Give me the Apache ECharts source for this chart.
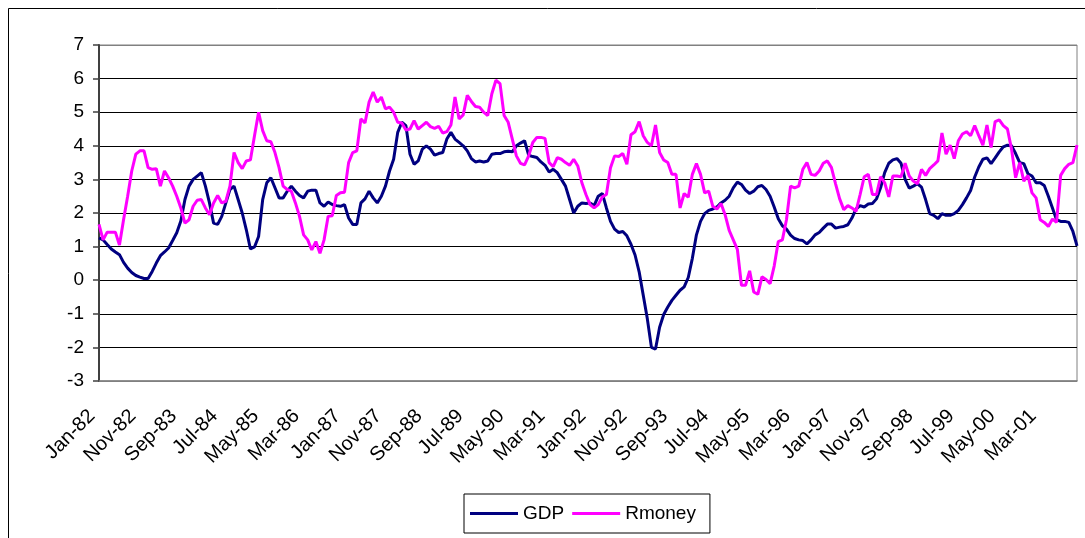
<!DOCTYPE html>
<html>
<head>
<meta charset="utf-8">
<script src="https://cdn.jsdelivr.net/npm/echarts@6/dist/echarts.min.js"></script>
<style>
html,body{margin:0;padding:0;background:#fff;}
#chart{width:1085px;height:538px;}
</style>
</head>
<body>
<div id="chart"></div>
<script>
const monthNames = ['Jan','Feb','Mar','Apr','May','Jun','Jul','Aug','Sep','Oct','Nov','Dec'];
const startYear = 1982;
const monthCount = 240;
const categories = [];
for (let k = 0; k < monthCount; k++) {
  const y = (startYear + Math.floor(k / 12)) % 100;
  categories.push(monthNames[k % 12] + '-' + String(y).padStart(2, '0'));
}

const gdp = [
1.26,1.2,1.06,0.93,0.84,0.76,0.53,0.36,0.23,0.14,
0.09,0.05,0.05,0.26,0.51,0.73,0.84,0.96,1.18,1.41,
1.76,2.4,2.8,3.0,3.1,3.2,2.8,2.3,1.7,1.66,
1.9,2.3,2.7,2.8,2.4,2.0,1.5,0.93,0.99,1.3,
2.4,2.9,3.05,2.75,2.45,2.45,2.65,2.8,2.65,2.52,
2.45,2.65,2.68,2.68,2.3,2.2,2.33,2.25,2.22,2.2,
2.25,1.85,1.66,1.66,2.3,2.42,2.65,2.45,2.3,2.5,
2.8,3.25,3.6,4.4,4.7,4.6,3.75,3.45,3.55,3.9,
4.0,3.9,3.72,3.77,3.8,4.2,4.4,4.2,4.1,4.0,
3.85,3.62,3.52,3.55,3.52,3.55,3.75,3.77,3.77,3.82,
3.84,3.82,4.0,4.08,4.15,3.72,3.68,3.65,3.52,3.42,
3.22,3.3,3.2,3.0,2.8,2.4,2.0,2.2,2.3,2.28,
2.3,2.22,2.5,2.58,2.15,1.75,1.52,1.42,1.45,1.32,
1.07,0.75,0.25,-0.45,-1.15,-2.0,-2.05,-1.4,-1.02,-0.8,
-0.6,-0.45,-0.3,-0.2,0.08,0.65,1.35,1.75,1.98,2.08,
2.12,2.18,2.3,2.38,2.5,2.75,2.92,2.85,2.68,2.58,
2.65,2.78,2.82,2.7,2.5,2.18,1.83,1.62,1.52,1.34,
1.24,1.2,1.18,1.08,1.2,1.35,1.42,1.55,1.67,1.67,
1.55,1.58,1.6,1.65,1.85,2.12,2.22,2.18,2.27,2.28,
2.42,2.75,3.2,3.48,3.58,3.62,3.48,3.0,2.74,2.8,
2.87,2.77,2.4,1.98,1.93,1.83,1.98,1.93,1.93,1.98,
2.08,2.25,2.45,2.67,3.07,3.37,3.6,3.64,3.47,3.64,
3.82,3.97,4.02,4.0,3.77,3.5,3.47,3.17,3.1,2.9,
2.9,2.82,2.5,2.15,1.8,1.75,1.75,1.72,1.45,1.02
];

const rmoney = [
1.66,1.2,1.43,1.43,1.43,1.05,1.8,2.5,3.25,3.75,
3.85,3.85,3.35,3.3,3.32,2.8,3.25,3.05,2.8,2.5,
2.15,1.7,1.8,2.2,2.38,2.4,2.15,1.95,2.3,2.52,
2.3,2.35,2.8,3.8,3.5,3.32,3.55,3.58,4.3,5.0,
4.45,4.15,4.12,3.8,3.35,2.8,2.7,2.65,2.3,1.9,
1.35,1.2,0.9,1.15,0.8,1.2,1.9,1.92,2.52,2.6,
2.62,3.5,3.8,3.85,4.8,4.68,5.3,5.6,5.3,5.45,
5.1,5.15,5.0,4.7,4.68,4.47,4.5,4.75,4.5,4.6,
4.7,4.57,4.52,4.58,4.38,4.42,4.62,5.45,4.8,4.92,
5.5,5.32,5.17,5.15,5.0,4.9,5.55,5.95,5.85,4.9,
4.7,4.2,3.7,3.48,3.43,3.7,4.1,4.25,4.25,4.22,
3.5,3.38,3.65,3.6,3.5,3.42,3.6,3.4,2.9,2.55,
2.25,2.15,2.25,2.48,2.55,3.35,3.7,3.68,3.77,3.45,
4.33,4.42,4.72,4.3,4.1,4.0,4.62,3.8,3.58,3.5,
3.15,3.15,2.15,2.58,2.47,3.15,3.47,3.15,2.6,2.65,
2.2,2.12,2.28,1.95,1.48,1.2,0.92,-0.15,-0.15,0.28,
-0.35,-0.42,0.1,0.02,-0.1,0.42,1.15,1.2,1.8,2.8,
2.75,2.8,3.3,3.5,3.15,3.12,3.25,3.48,3.55,3.35,
2.87,2.42,2.1,2.22,2.15,2.05,2.55,3.08,3.15,2.55,
2.55,3.08,2.9,2.48,3.1,3.1,3.08,3.48,3.1,2.95,
2.87,3.3,3.12,3.32,3.43,3.55,4.38,3.75,4.02,3.62,
4.15,4.35,4.42,4.3,4.6,4.3,4.02,4.62,3.95,4.72,
4.77,4.6,4.5,3.9,3.05,3.5,2.95,3.12,2.6,2.45,
1.8,1.72,1.6,1.82,1.72,3.12,3.32,3.45,3.5,4.02
];

const seriesNames = ['GDP', 'Rmoney'];
const yMin = -3, yMax = 7, yStep = 1;

const FONT = '"Liberation Sans", Arial, sans-serif';
const gridColors = [];
for (let v = yMin; v <= yMax; v += yStep) {
  gridColors.push((v === yMin || v === yMax) ? '#808080' : '#000000');
}

const chart = echarts.init(document.getElementById('chart'), null, {renderer: 'canvas'});
chart.setOption({
  animation: false,
  backgroundColor: '#ffffff',
  textStyle: {fontFamily: FONT},
  graphic: [{
    type: 'rect',
    silent: true,
    shape: {x: 8.5, y: 8.5, width: 1200, height: 700},
    style: {fill: 'none', stroke: '#000000', lineWidth: 1}
  }],
  grid: {
    left: 99, top: 45, width: 978, height: 336,
    show: true, borderColor: '#808080', borderWidth: 1,
    backgroundColor: 'transparent'
  },
  legend: {
    data: seriesNames,
    left: 464, top: 494,
    orient: 'horizontal',
    icon: 'rect',
    itemWidth: 48, itemHeight: 3, itemGap: 8,
    padding: [10, 14, 10, 6],
    borderColor: '#000000', borderWidth: 1,
    backgroundColor: '#ffffff',
    textStyle: {fontSize: 19, color: '#000000', fontFamily: FONT}
  },
  xAxis: {
    type: 'category',
    data: categories,
    boundaryGap: false,
    axisLine: {onZero: false, lineStyle: {color: '#808080', width: 1.5}},
    axisTick: {show: false},
    splitLine: {show: false},
    axisLabel: {
      interval: 9, rotate: 45, margin: 39, verticalAlign: 'bottom',
      fontSize: 20, color: '#000000', fontFamily: FONT
    }
  },
  yAxis: {
    type: 'value',
    min: yMin, max: yMax, interval: yStep,
    axisLine: {show: true, lineStyle: {color: '#404040', width: 2}},
    axisTick: {show: true, length: 6, lineStyle: {color: '#404040', width: 1.5}},
    axisLabel: {margin: 15, fontSize: 19, color: '#000000', fontFamily: FONT},
    splitLine: {show: true, lineStyle: {color: gridColors, width: 1}}
  },
  series: [
    {name: seriesNames[0], type: 'line', data: gdp, showSymbol: false, symbol: 'none',
     lineStyle: {color: '#000080', width: 3}, itemStyle: {color: '#000080'}},
    {name: seriesNames[1], type: 'line', data: rmoney, showSymbol: false, symbol: 'none',
     lineStyle: {color: '#FF00FF', width: 3}, itemStyle: {color: '#FF00FF'}}
  ]
});
</script>
</body>
</html>
